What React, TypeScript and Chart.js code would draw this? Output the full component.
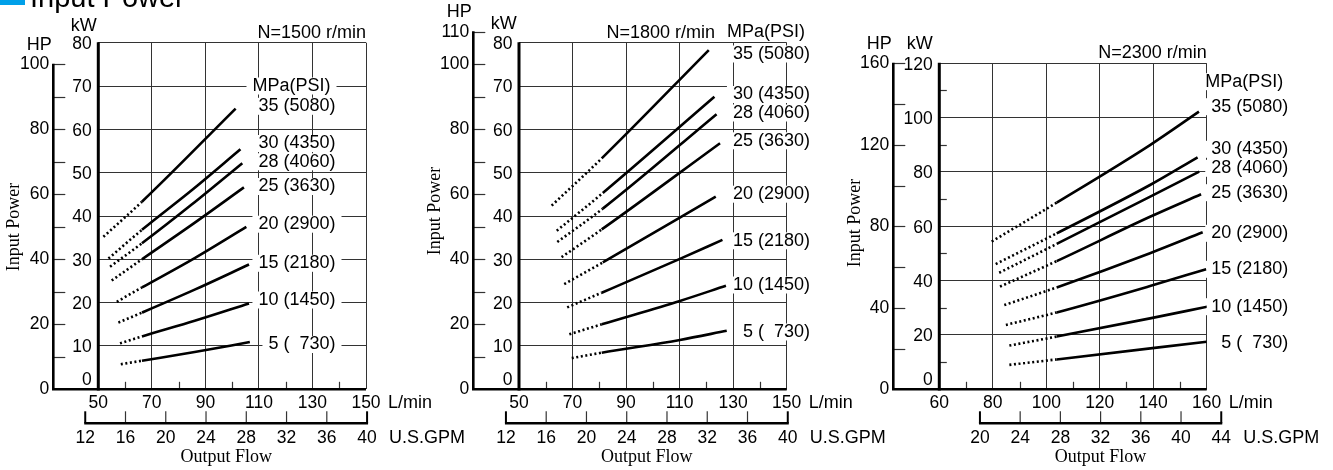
import React, { useEffect, useRef } from 'react';
import { Chart, registerables } from 'chart.js';

Chart.register(...registerables);

const W = 1333;
const H = 470;

const SANS = '"Liberation Sans", Arial, Helvetica, sans-serif';
const SERIF = '"Liberation Serif", "Times New Roman", serif';
const GRID = '#333333';
const HEAD_BLUE = '#00a0e9';

// unit conversions used by the secondary axes of the drawing
const HP_TO_KW = 0.75;
const GPM_TO_LPM = 3.76;

const HEADING = 'Input Power';
const Y_TITLE = 'Input Power';
const X_TITLE = 'Output Flow';
const PRESSURE_HEADER = 'MPa(PSI)';
const PRESSURE_LABELS = ['35 (5080)', '30 (4350)', '28 (4060)', '25 (3630)', '20 (2900)', '15 (2180)', '10 (1450)', '5 (  730)'];

// ---------- Panel 1 : N = 1500 r/min ----------
const P1_SPEED = 'N=1500 r/min';
const P1_FLOW_LABELS = [50, 70, 90, 110, 130, 150];
const P1_FLOW_MINOR = [60, 80, 100, 120, 140];
const P1_KW_LABELS = [0, 10, 20, 30, 40, 50, 60, 70, 80];
const P1_KW_MINOR: number[] = [];
const P1_HP_LABELS = [0, 20, 40, 60, 80, 100];
const P1_HP_TICKS = [10, 20, 30, 40, 50, 60, 70, 80, 90, 100];
const P1_GPM_LABELS = [12, 16, 20, 24, 28, 32, 36, 40];
// [L/min, kW]; first segment is the dotted part
const P1_35 = [[51.9, 35.2], [66.3, 43.3], [101.3, 64.8]];
const P1_30 = [[53.8, 30.2], [66.3, 36.8], [85, 46.0], [103.1, 55.4]];
const P1_28 = [[54.4, 28.3], [66.3, 33.7], [85, 42.7], [103.8, 52.2]];
const P1_25 = [[55.0, 25.1], [66.3, 30.0], [85, 38.0], [104.4, 46.6]];
const P1_20 = [[56.9, 20.2], [66.3, 23.5], [86, 30.3], [105.3, 37.5]];
const P1_15 = [[57.5, 15.4], [66.3, 17.7], [86, 23.0], [106.3, 28.8]];
const P1_10 = [[58.1, 10.6], [66.3, 12.2], [86, 15.8], [106.3, 19.8]];
const P1_5 = [[58.4, 5.8], [66.3, 6.6], [86, 8.6], [106.6, 10.9]];

// ---------- Panel 2 : N = 1800 r/min ----------
const P2_SPEED = 'N=1800 r/min';
const P2_FLOW_LABELS = [50, 70, 90, 110, 130, 150];
const P2_FLOW_MINOR = [60, 80, 100, 120, 140];
const P2_KW_LABELS = [0, 10, 20, 30, 40, 50, 60, 70, 80];
const P2_KW_MINOR: number[] = [];
const P2_HP_LABELS = [0, 20, 40, 60, 80, 100, 110];
const P2_HP_TICKS = [10, 20, 30, 40, 50, 60, 70, 80, 90, 100, 110];
const P2_GPM_LABELS = [12, 16, 20, 24, 28, 32, 36, 40];
const P2_35 = [[62.2, 42.4], [80.9, 53.3], [120.9, 78.3]];
const P2_30 = [[64.1, 36.6], [81.3, 45.3], [123.0, 67.5]];
const P2_28 = [[64.3, 34.0], [81.3, 41.7], [123.8, 63.5]];
const P2_25 = [[65.9, 30.5], [80.9, 36.9], [125.1, 56.8]];
const P2_20 = [[66.9, 24.3], [81.3, 29.3], [123.5, 44.5]];
const P2_15 = [[68.0, 18.9], [80.9, 22.3], [110.1, 30.1], [126.0, 34.5]];
const P2_10 = [[68.8, 12.7], [80.9, 15.0], [110.1, 20.4], [127.3, 23.9]];
const P2_5 = [[69.7, 7.2], [80.9, 8.45], [110.1, 11.4], [127.6, 13.5]];

// ---------- Panel 3 : N = 2300 r/min ----------
const P3_SPEED = 'N=2300 r/min';
const P3_FLOW_LABELS = [60, 80, 100, 120, 140, 160];
const P3_FLOW_MINOR = [70, 90, 110, 130, 150];
const P3_KW_LABELS = [0, 20, 40, 60, 80, 100, 120];
const P3_KW_MINOR = [10, 30, 50, 70, 90, 110];
const P3_HP_LABELS = [0, 40, 80, 120, 160];
const P3_HP_TICKS = [20, 40, 60, 80, 100, 120, 140, 160];
const P3_GPM_LABELS = [20, 24, 28, 32, 36, 40, 44];
const P3_35 = [[79.6, 54.4], [103.9, 68.7], [138.8, 89.9], [157.1, 102.2]];
const P3_30 = [[81.1, 46.1], [103.9, 57.4], [138.8, 75.2], [156.6, 85.4]];
const P3_28 = [[82.4, 42.9], [103.9, 53.5], [157.2, 80.1]];
const P3_25 = [[82.7, 37.8], [103.9, 47.2], [138.8, 63.5], [157.9, 71.8]];
const P3_20 = [[84.3, 31.0], [103.9, 37.5], [138.8, 50.1], [158.5, 57.8]];
const P3_15 = [[84.9, 23.7], [103.9, 28.3], [138.8, 38.0], [159.8, 44.2]];
const P3_10 = [[86.2, 16.1], [103.9, 19.4], [138.8, 26.1], [160.2, 30.4]];
const P3_5 = [[86.2, 9.0], [103.9, 11.0], [160.0, 17.5]];

interface Layout {
  left: number; right: number; top: number; bottom: number;
  hpX: number; kwTextX: number; kwTextY: number;
  speedX: number; speedY: number;
  labelRight: number; mpaY: number; labelYs: number[];
  ipX: number; ipY: number;
}

interface Panel {
  speed: string;
  lines: number[][][];
  flowLabels: number[]; flowMinor: number[];
  kwLabels: number[]; kwMinor: number[];
  hpLabels: number[]; hpTicks: number[];
  gpmLabels: number[];
  layout: Layout;
  heading: boolean;
}

const PANELS: Panel[] = [
  {
    speed: P1_SPEED,
    lines: [P1_35, P1_30, P1_28, P1_25, P1_20, P1_15, P1_10, P1_5],
    flowLabels: P1_FLOW_LABELS, flowMinor: P1_FLOW_MINOR,
    kwLabels: P1_KW_LABELS, kwMinor: P1_KW_MINOR,
    hpLabels: P1_HP_LABELS, hpTicks: P1_HP_TICKS, gpmLabels: P1_GPM_LABELS,
    heading: true,
    layout: {
      left: 98.3, right: 366, top: 42.7, bottom: 389.3,
      hpX: 53.3, kwTextX: 83.7, kwTextY: 26.3,
      speedX: 366, speedY: 33.3,
      labelRight: 335.5, mpaY: 86, labelYs: [106.3, 143.5, 161.8, 186.5, 224.2, 263.3, 300, 344.5],
      ipX: 14, ipY: 227,
    },
  },
  {
    speed: P2_SPEED,
    lines: [P2_35, P2_30, P2_28, P2_25, P2_20, P2_15, P2_10, P2_5],
    flowLabels: P2_FLOW_LABELS, flowMinor: P2_FLOW_MINOR,
    kwLabels: P2_KW_LABELS, kwMinor: P2_KW_MINOR,
    hpLabels: P2_HP_LABELS, hpTicks: P2_HP_TICKS, gpmLabels: P2_GPM_LABELS,
    heading: false,
    layout: {
      left: 519, right: 786.7, top: 42.7, bottom: 389.3,
      hpX: 473.3, kwTextX: 503.7, kwTextY: 23.7,
      speedX: 715, speedY: 33.3,
      labelRight: 810, mpaY: 32.5, labelYs: [54, 94.5, 113, 140.8, 194.2, 240.8, 285, 332],
      ipX: 435, ipY: 211,
    },
  },
  {
    speed: P3_SPEED,
    lines: [P3_35, P3_30, P3_28, P3_25, P3_20, P3_15, P3_10, P3_5],
    flowLabels: P3_FLOW_LABELS, flowMinor: P3_FLOW_MINOR,
    kwLabels: P3_KW_LABELS, kwMinor: P3_KW_MINOR,
    hpLabels: P3_HP_LABELS, hpTicks: P3_HP_TICKS, gpmLabels: P3_GPM_LABELS,
    heading: false,
    layout: {
      left: 939.3, right: 1206.7, top: 63.3, bottom: 389.3,
      hpX: 893.3, kwTextX: 919.7, kwTextY: 43.7,
      speedX: 1206.7, speedY: 53.3,
      labelRight: 1288.3, mpaY: 81.7, labelYs: [106.7, 149.3, 168.3, 192.7, 233.3, 269.3, 306.7, 342.7],
      ipX: 855, ipY: 223,
    },
  },
];

const last = (a: number[]) => a[a.length - 1];

function seg(ctx: CanvasRenderingContext2D, x1: number, y1: number, x2: number, y2: number) {
  ctx.beginPath();
  ctx.moveTo(x1, y1);
  ctx.lineTo(x2, y2);
  ctx.stroke();
}

function drawPressureLabels(chart: any, p: Panel) {
  const ctx: CanvasRenderingContext2D = chart.ctx;
  const L = p.layout;
  const items: [string, number, number][] = [[PRESSURE_HEADER, L.labelRight - 5, L.mpaY]];
  PRESSURE_LABELS.forEach((t, i) => items.push([t, L.labelRight, L.labelYs[i]]));
  ctx.save();
  ctx.font = `18px ${SANS}`;
  ctx.textAlign = 'right';
  ctx.textBaseline = 'middle';
  ctx.fillStyle = '#fff';
  items.forEach(([t, x, y]) => {
    const w = ctx.measureText(t).width;
    ctx.fillRect(x - w - 6, y - 8.5, w + 12, 17);
  });
  ctx.fillStyle = '#000';
  items.forEach(([t, x, y]) => ctx.fillText(t, x, y));
  ctx.restore();
}

function drawAxes(chart: any, p: Panel) {
  const ctx: CanvasRenderingContext2D = chart.ctx;
  const xs = chart.scales.x;
  const ys = chart.scales.y;
  const L = p.layout;
  const X = (v: number) => xs.getPixelForValue(v);
  const Y = (v: number) => ys.getPixelForValue(v);
  const xMin = p.flowLabels[0];
  const xMax = last(p.flowLabels);
  const yMax = last(p.kwLabels);
  const y0 = Y(0);
  const hpTop = Y(last(p.hpTicks) * HP_TO_KW);

  ctx.save();
  ctx.lineCap = 'butt';

  // minor ticks (grey)
  ctx.strokeStyle = GRID;
  ctx.lineWidth = 1.2;
  p.hpTicks.forEach((v) => {
    const y = Math.round(Y(v * HP_TO_KW)) + 0.5;
    seg(ctx, L.hpX, y, L.hpX + 12, y);
  });
  p.kwMinor.forEach((v) => {
    const y = Math.round(Y(v)) + 0.5;
    seg(ctx, X(xMin), y, X(xMin) + 7.5, y);
  });
  p.flowMinor.forEach((v) => {
    const x = Math.round(X(v)) + 0.5;
    seg(ctx, x, y0, x, y0 - 7.5);
  });

  // GPM axis
  const gy = y0 + 34;
  const g0 = X(p.gpmLabels[0] * GPM_TO_LPM);
  const g1 = X(last(p.gpmLabels) * GPM_TO_LPM);
  p.gpmLabels.forEach((v, i) => {
    const x = X(v * GPM_TO_LPM);
    const edge = i === 0 || i === p.gpmLabels.length - 1;
    ctx.strokeStyle = edge ? '#000' : GRID;
    ctx.lineWidth = edge ? 2 : 1.2;
    seg(ctx, x, gy, x, gy - 12);
  });
  ctx.strokeStyle = '#000';
  ctx.lineWidth = 2.6;
  seg(ctx, g0 - 1, gy, g1 + 1, gy);

  // thick axes
  ctx.lineWidth = 2.6;
  seg(ctx, L.hpX, y0, L.hpX, hpTop - 0.6);
  seg(ctx, L.hpX - 1.3, y0, X(xMax), y0);
  ctx.lineWidth = 3;
  seg(ctx, X(xMin), y0 + 1.3, X(xMin), Y(yMax) - 0.5);

  // tick labels
  ctx.fillStyle = '#000';
  ctx.font = `17.5px ${SANS}`;
  ctx.textBaseline = 'middle';
  ctx.textAlign = 'right';
  p.kwLabels.forEach((v) => {
    const y = v === 0 ? y0 - 9.5 : Y(v) + 1.6;
    ctx.fillText(String(v), X(xMin) - 6.5, y);
  });
  p.hpLabels.forEach((v) => {
    ctx.fillText(String(v), L.hpX - 4, Y(v * HP_TO_KW));
  });
  ctx.textAlign = 'center';
  p.flowLabels.forEach((v) => ctx.fillText(String(v), X(v), y0 + 14));
  p.gpmLabels.forEach((v) => ctx.fillText(String(v), X(v * GPM_TO_LPM), gy + 15));

  // unit texts
  ctx.font = `18px ${SANS}`;
  ctx.textAlign = 'left';
  ctx.fillText('L/min', X(xMax) + 22, y0 + 14);
  ctx.fillText('U.S.GPM', g1 + 22, gy + 15);
  ctx.textAlign = 'center';
  ctx.fillText('HP', L.hpX - 14, hpTop - 19.5);
  ctx.fillText('kW', L.kwTextX, L.kwTextY);
  ctx.textAlign = 'right';
  ctx.fillText(p.speed, L.speedX, L.speedY);

  // axis titles
  ctx.font = `18px ${SERIF}`;
  ctx.textAlign = 'center';
  ctx.fillText(X_TITLE, (g0 + g1) / 2, 457.5);
  ctx.save();
  ctx.translate(L.ipX, L.ipY);
  ctx.rotate(-Math.PI / 2);
  ctx.fillText(Y_TITLE, 0, 0);
  ctx.restore();

  if (p.heading) {
    ctx.fillStyle = HEAD_BLUE;
    ctx.fillRect(0, -16, 25, 21);
    ctx.fillStyle = '#000';
    ctx.font = `29px ${SANS}`;
    ctx.textAlign = 'left';
    ctx.textBaseline = 'alphabetic';
    ctx.fillText(HEADING, 30, 6.5);
  }
  ctx.restore();
}

function buildConfig(p: Panel): any {
  const L = p.layout;
  const xMin = p.flowLabels[0];
  const xMax = last(p.flowLabels);
  const yMax = last(p.kwLabels);
  const yStep = p.kwLabels[1] - p.kwLabels[0];
  const xStep = p.flowLabels[1] - p.flowLabels[0];
  return {
    type: 'line',
    data: {
      datasets: p.lines.map((pts, i) => ({
        label: PRESSURE_LABELS[i],
        data: pts.map(([x, y]) => ({ x, y })),
        borderColor: '#000',
        borderWidth: 2.6,
        borderCapStyle: 'butt',
        pointRadius: 0,
        fill: false,
        cubicInterpolationMode: 'monotone',
        segment: {
          borderDash: (c: any) => (c.p0DataIndex === 0 ? [2, 2.6] : undefined),
        },
      })),
    },
    options: {
      responsive: false,
      animation: false,
      events: [],
      layout: {
        padding: { left: L.left, top: L.top, right: W - L.right, bottom: H - L.bottom },
      },
      plugins: { legend: { display: false }, tooltip: { enabled: false } },
      scales: {
        x: {
          type: 'linear', min: xMin, max: xMax,
          ticks: { display: false, stepSize: xStep },
          grid: { color: GRID, lineWidth: 1, drawTicks: false },
          border: { display: false },
        },
        y: {
          type: 'linear', min: 0, max: yMax,
          ticks: { display: false, stepSize: yStep },
          grid: { color: GRID, lineWidth: 1, drawTicks: false },
          border: { display: false },
        },
      },
    },
    plugins: [
      {
        id: 'panelOverlay',
        beforeDatasetsDraw: (c: any) => drawPressureLabels(c, p),
        afterDraw: (c: any) => drawAxes(c, p),
      },
    ],
  };
}

function PanelChart({ panel }: { panel: Panel }) {
  const ref = useRef<HTMLCanvasElement>(null);
  useEffect(() => {
    const canvas = ref.current;
    if (!canvas) return;
    const chart = new Chart(canvas, buildConfig(panel));
    return () => chart.destroy();
  }, [panel]);
  return (
    <canvas
      ref={ref}
      width={W}
      height={H}
      style={{ position: 'absolute', left: 0, top: 0, width: W, height: H, display: 'block' }}
    />
  );
}

export default function App() {
  return (
    <div style={{ position: 'absolute', left: 0, top: 0, width: W, height: H, background: '#fff', overflow: 'hidden' }}>
      {PANELS.map((p, i) => (
        <PanelChart key={i} panel={p} />
      ))}
    </div>
  );
}
